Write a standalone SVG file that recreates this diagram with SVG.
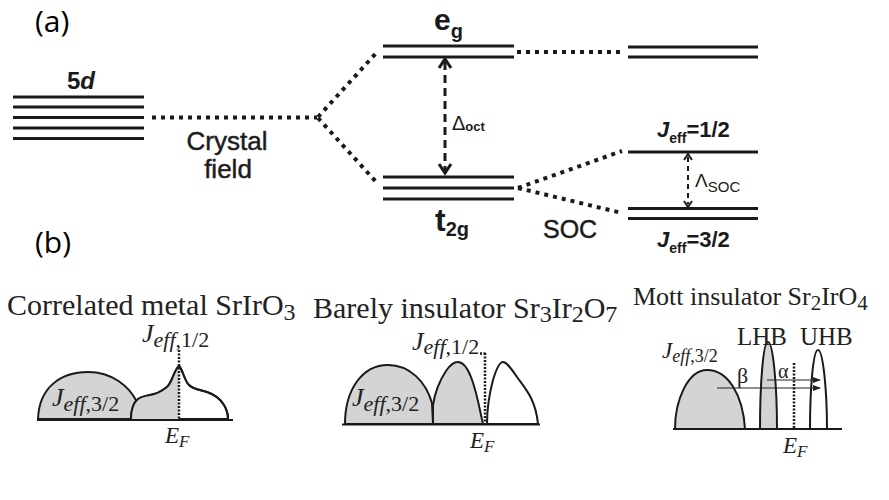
<svg xmlns="http://www.w3.org/2000/svg" width="889" height="500" viewBox="0 0 889 500">
<defs>
<style>
.lv{stroke:#1a1a1a;stroke-width:3;fill:none}
.dot{stroke:#1a1a1a;stroke-width:4;stroke-dasharray:4 5;fill:none}
.dash{stroke:#1a1a1a;stroke-width:3;stroke-dasharray:8 5;fill:none}
.chev{stroke:#1a1a1a;stroke-width:3;fill:none;stroke-linejoin:miter}
.sans{font-family:"Liberation Sans",Arial,sans-serif;fill:#1a1a1a}
.med{stroke:#2a2a2a;stroke-width:0.5}
.lab{font-family:"Open Sans","Liberation Sans",sans-serif;font-size:30px;fill:#000}
.serif{font-family:"Liberation Serif","Times New Roman",serif;fill:#222}
.band{stroke:#1a1a1a;stroke-width:2;fill:#d4d4d4}
.wband{stroke:#1a1a1a;stroke-width:2;fill:#fff}
.base{stroke:#1a1a1a;stroke-width:2}
.ef{stroke:#1a1a1a;stroke-width:2.5;stroke-dasharray:2 1.5}
.thin{stroke:#222;stroke-width:1.2;marker-end:url(#ah)}
</style>
<marker id="ah" markerWidth="8" markerHeight="6" refX="7" refY="3" orient="auto" markerUnits="userSpaceOnUse">
<path d="M0,0 L8,3 L0,6 Z" fill="#222"/>
</marker>
<clipPath id="c1l"><rect x="0" y="300" width="179" height="130"/></clipPath>
</defs>
<rect width="889" height="500" fill="#fff"/>

<text class="lab" x="35" y="32">(a)</text>
<text class="lab" x="35" y="253">(b)</text>

<g id="level-5d">
<path class="lv" d="M13,97H144M13,107H144M13,117.5H144M13,128H144M13,138.5H144"/>
<text class="sans" x="81" y="89" font-size="24" font-weight="bold" text-anchor="middle">5<tspan font-style="italic">d</tspan></text>
</g>

<g id="level-eg">
<path class="lv" d="M383,46H514M383,57H514"/>
<text class="sans" x="434" y="30" font-size="30" font-weight="bold">e<tspan font-size="20" dy="8">g</tspan></text>
</g>

<g id="level-t2g">
<path class="lv" d="M383,177H514M383,188H514M383,199H514"/>
<text class="sans" x="435" y="231" font-size="32" font-weight="bold">t<tspan font-size="20" dy="5">2g</tspan></text>
</g>

<g id="level-right-eg">
<path class="lv" d="M628,47H758M628,57H758"/>
</g>

<g id="level-jeff12">
<path class="lv" d="M628,152H758"/>
<text class="sans" x="657" y="137" font-size="22" font-weight="bold"><tspan font-style="italic">J</tspan><tspan font-size="14" dy="6">eff</tspan><tspan dy="-6">=1/2</tspan></text>
</g>

<g id="level-jeff32">
<path class="lv" d="M628,208.5H758M628,218.5H758"/>
<text class="sans" x="657" y="247" font-size="22" font-weight="bold"><tspan font-style="italic">J</tspan><tspan font-size="14" dy="6">eff</tspan><tspan dy="-6">=3/2</tspan></text>
</g>

<g id="connectors">
<path class="dot" d="M152,117.5H317"/>
<path class="dot" d="M318,117 L378,51"/>
<path class="dot" d="M318,118 L378,184"/>
<path class="dot" d="M517,52H624"/>
<path class="dot" d="M518,188 L622,151"/>
<path class="dot" d="M518,188 L622,213"/>
<path class="dash" d="M445,62V170"/>
<polyline class="chev" points="439,68 445,59 451,68"/>
<polyline class="chev" points="439,164 445,173 451,164"/>
<path stroke="#1a1a1a" stroke-width="2" stroke-dasharray="5 4" d="M688,157V204"/>
<polyline fill="none" stroke="#1a1a1a" stroke-width="2" points="684,160 688,154 692,160"/>
<polyline fill="none" stroke="#1a1a1a" stroke-width="2" points="684,201 688,207 692,201"/>
</g>

<text class="sans med" x="227" y="150" font-size="26" text-anchor="middle" fill="#2a2a2a">Crystal</text>
<text class="sans med" x="228" y="178" font-size="26" text-anchor="middle" fill="#2a2a2a">field</text>
<text class="sans med" x="543" y="238" font-size="25" fill="#2a2a2a">SOC</text>
<text class="sans" x="452" y="130" font-size="20" fill="#333">Δ<tspan font-size="13" font-weight="bold" dy="1">oct</tspan></text>
<text class="sans" x="695" y="187" font-size="19" fill="#333">Λ<tspan font-size="15" dy="5">SOC</tspan></text>

<g id="panel-metal">
<text class="serif" x="7" y="315" font-size="30">Correlated metal SrIrO<tspan font-size="24" dy="5">3</tspan></text>
<path class="band" d="M38,419 C39,388 60,372 88,372 C112,372 129,386 137,402 L137,419 Z"/>
<path class="wband" d="M131,419 C131,410 133,403 138,399 C142,396 146,396 150,395 C157,394 162,391 167,387 C172,383 174,370 179,366 C183,370 184,380 189,385 C193,389 200,390 207,392 C216,395 221,400 224,405 C227,410 228,415 228,419 Z"/>
<path fill="#d4d4d4" stroke="none" clip-path="url(#c1l)" d="M131,419 C131,410 133,403 138,399 C142,396 146,396 150,395 C157,394 162,391 167,387 C172,383 174,370 179,366 C183,370 184,380 189,385 C193,389 200,390 207,392 C216,395 221,400 224,405 C227,410 228,415 228,419 Z"/>
<path fill="none" stroke="#1a1a1a" stroke-width="2" d="M131,419 C131,410 133,403 138,399 C142,396 146,396 150,395 C157,394 162,391 167,387 C172,383 174,370 179,366 C183,370 184,380 189,385 C193,389 200,390 207,392 C216,395 221,400 224,405 C227,410 228,415 228,419"/>
<path class="base" d="M37,420H233"/>
<path class="ef" d="M179,350V420"/>
<text class="serif" x="142" y="342" font-size="26"><tspan font-style="italic">J</tspan><tspan font-size="22" dy="5" font-style="italic">eff</tspan><tspan font-size="22">,1/2</tspan></text>
<text class="serif" x="52" y="406" font-size="26"><tspan font-style="italic">J</tspan><tspan font-size="22" dy="5" font-style="italic">eff</tspan><tspan font-size="22">,3/2</tspan></text>
<text class="serif" x="165" y="443" font-size="23" font-style="italic">E<tspan font-size="17" dy="4">F</tspan></text>
</g>

<g id="panel-barely">
<text class="serif" x="313" y="318" font-size="30">Barely insulator Sr<tspan font-size="24" dy="4">3</tspan><tspan dy="-4">Ir</tspan><tspan font-size="24" dy="4">2</tspan><tspan dy="-4">O</tspan><tspan font-size="24" dy="4">7</tspan></text>
<path class="band" d="M345,424 C345,390 362,365 388,365 C410,365 426,382 432,403 L433,424 Z"/>
<path class="band" d="M433,424 L433,405 C435,392 440,380 446,371 C450,365 454,362 458,362 C463,362 467,367 471,377 C476,390 479,405 481,415 L483,424 Z"/>
<path class="wband" d="M487,424 C487,410 489,395 493,380 C496,370 499,362 503,362 C507,362 512,370 517,377 C522,384 527,390 531,398 C535,406 537,414 538,424 Z"/>
<path class="base" d="M342,424.5H540"/>
<path class="ef" d="M485,353V424M480,353.5H486"/>
<text class="serif" x="412" y="350" font-size="26"><tspan font-style="italic">J</tspan><tspan font-size="22" dy="4" font-style="italic">eff</tspan><tspan font-size="22">,1/2</tspan></text>
<text class="serif" x="352" y="406" font-size="26"><tspan font-style="italic">J</tspan><tspan font-size="22" dy="5" font-style="italic">eff</tspan><tspan font-size="22">,3/2</tspan></text>
<text class="serif" x="470" y="448" font-size="23" font-style="italic">E<tspan font-size="17" dy="4">F</tspan></text>
</g>

<g id="panel-mott">
<text class="serif" x="633" y="305" font-size="26">Mott insulator Sr<tspan font-size="21" dy="5">2</tspan><tspan dy="-5">IrO</tspan><tspan font-size="21" dy="5">4</tspan></text>
<path class="band" d="M675,429 C675,400 688,370 707,370 C728,370 743,395 745,429 Z"/>
<path class="band" d="M760,429 C760,385 763,342 768,342 C773,342 777,385 777,429 Z"/>
<path class="wband" d="M810,429 C810,390 813,350 818,350 C823,350 827,390 827,429 Z"/>
<path class="base" d="M673,429H842"/>
<path class="ef" d="M794,363V429"/>
<path class="thin" d="M767,380H820"/>
<path class="thin" d="M717,388H820"/>
<text class="serif" x="662" y="358" font-size="23"><tspan font-style="italic">J</tspan><tspan font-size="18" dy="4" font-style="italic">eff</tspan><tspan font-size="18">,3/2</tspan></text>
<text class="serif" x="737" y="345" font-size="25">LHB</text>
<text class="serif" x="800" y="345" font-size="25">UHB</text>
<text class="serif" x="737" y="383" font-size="22">β</text>
<text class="serif" x="778" y="378" font-size="20">α</text>
<text class="serif" x="783" y="453" font-size="23" font-style="italic">E<tspan font-size="17" dy="4">F</tspan></text>
</g>
</svg>
